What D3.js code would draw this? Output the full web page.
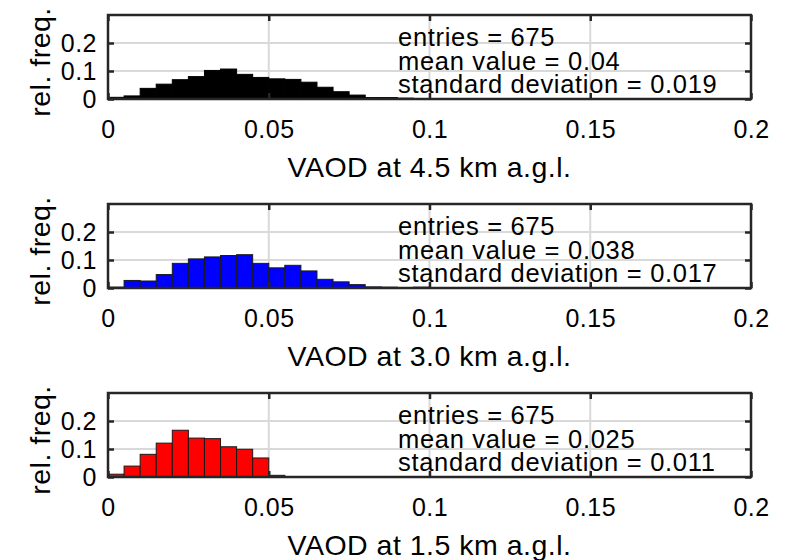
<!DOCTYPE html>
<html>
<head>
<meta charset="utf-8">
<script src="https://cdn.jsdelivr.net/npm/d3@7"></script>
<style>
  body { margin: 0; background: #fff; }
  svg text { font-family: "Liberation Sans", Arial, sans-serif; fill: #000; }
</style>
</head>
<body>
<div id="container"></div>
<script>
// histogram bins: 0.005 wide, starting at 0
let binWidth = 0.005

let heights45 = [0.006, 0.011, 0.038, 0.053, 0.069, 0.080, 0.102, 0.107, 0.088, 0.077,
                 0.072, 0.070, 0.060, 0.042, 0.026, 0.014, 0.005, 0.005, 0.003]
let heights30 = [0.003, 0.027, 0.025, 0.048, 0.088, 0.104, 0.111, 0.116, 0.119, 0.088,
                 0.072, 0.081, 0.061, 0.031, 0.022, 0.012, 0.004, 0.003, 0.0015, 0.003]
let heights15 = [0.01, 0.039, 0.081, 0.121, 0.167, 0.139, 0.137, 0.108, 0.099, 0.068, 0.006]

let panelLabels = ["VAOD at 4.5 km a.g.l.", "VAOD at 3.0 km a.g.l.", "VAOD at 1.5 km a.g.l."]
let panelColors = ["#000000", "#0000ff", "#ff0000"]
let entries = [675, 675, 675]
let means = ["0.04", "0.038", "0.025"]
let stds = ["0.019", "0.017", "0.011"]

let xTicks = [0, 0.05, 0.1, 0.15, 0.2]
let xTickLabels = ["0", "0.05", "0.1", "0.15", "0.2"]
let yTicks = [0, 0.1, 0.2]
let yTickLabels = ["0", "0.1", "0.2"]

let width = 797
let height = 560
let left = 108, right = 751
let panelH = 84
let panelTops = [15, 204, 393]
let axisColor = "#262626"

let svg = d3.select("#container")
    .append("svg")
    .attr("width", width)
    .attr("height", height)

svg.append("rect").attr("width", width).attr("height", height).attr("fill", "#fff")

let x = d3.scaleLinear().domain([0, 0.2]).range([left, right])

let allHeights = [heights45, heights30, heights15]

allHeights.forEach((data, p) => {
    let top = panelTops[p]
    let bottom = top + panelH
    let y = d3.scaleLinear().domain([0, 0.3]).range([bottom, top])

    let g = svg.append("g")

    // grid
    g.append("g")
        .selectAll("line")
        .data(xTicks.slice(1, -1))
        .join("line")
            .attr("x1", d => x(d)).attr("x2", d => x(d))
            .attr("y1", top).attr("y2", bottom)
            .attr("stroke", "#d9d9d9").attr("stroke-width", 2)
    g.append("g")
        .selectAll("line")
        .data(yTicks.slice(1))
        .join("line")
            .attr("x1", left).attr("x2", right)
            .attr("y1", d => y(d)).attr("y2", d => y(d))
            .attr("stroke", "#d9d9d9").attr("stroke-width", 2)

    // bars
    g.append("g")
        .attr("fill", panelColors[p])
        .attr("stroke", p == 0 ? "#000" : "#1a1a1a")
        .attr("stroke-width", 1)
        .selectAll("rect")
        .data(data)
        .join("rect")
            .attr("x", (d, i) => x(i * binWidth))
            .attr("width", (d, i) => x((i + 1) * binWidth) - x(i * binWidth))
            .attr("y", d => y(d))
            .attr("height", d => y(0) - y(d))

    // axes, ticks pointing inward
    let styleAxis = a => {
        a.select(".domain").remove()
        a.selectAll(".tick line").attr("stroke", axisColor).attr("stroke-width", 2.5)
        a.selectAll("text").attr("font-size", 25).attr("letter-spacing", 0.5).attr("fill", "#000")
    }

    g.append("g")
        .attr("transform", `translate(0,${bottom})`)
        .call(d3.axisBottom(x).tickValues(xTicks).tickSize(-6).tickPadding(21)
            .tickFormat((d, i) => xTickLabels[i]))
        .call(styleAxis)
    g.append("g")
        .attr("transform", `translate(0,${top})`)
        .call(d3.axisTop(x).tickValues(xTicks).tickSize(-6).tickFormat(""))
        .call(styleAxis)
    g.append("g")
        .attr("transform", `translate(${left},0)`)
        .call(d3.axisLeft(y).tickValues(yTicks).tickSize(-6).tickPadding(11)
            .tickFormat((d, i) => yTickLabels[i]))
        .call(styleAxis)
    g.append("g")
        .attr("transform", `translate(${right},0)`)
        .call(d3.axisRight(y).tickValues(yTicks).tickSize(-6).tickFormat(""))
        .call(styleAxis)

    g.append("rect")
        .attr("x", left).attr("y", top)
        .attr("width", right - left).attr("height", panelH)
        .attr("fill", "none")
        .attr("stroke", axisColor)
        .attr("stroke-width", 2.5)

    // stats box text
    let lines = ["entries = " + entries[p], "mean value = " + means[p], "standard deviation = " + stds[p]]
    g.append("g")
        .selectAll("text")
        .data(lines)
        .join("text")
            .attr("x", 398)
            .attr("y", (d, i) => top + 31 + i * 23.7)
            .attr("font-size", 25.5)
            .attr("letter-spacing", 0.7)
            .text(d => d)

    // labels
    g.append("text")
        .attr("x", (left + right) / 2)
        .attr("y", bottom + 78)
        .attr("text-anchor", "middle")
        .attr("font-size", 28.5)
        .attr("letter-spacing", 0.5)
        .text(panelLabels[p])

    g.append("text")
        .attr("transform", `translate(50,${top + panelH / 2 + 5}) rotate(-90)`)
        .attr("text-anchor", "middle")
        .attr("font-size", 28.5)
        .attr("letter-spacing", 0.5)
        .text("rel. freq.")
})
</script>
</body>
</html>
